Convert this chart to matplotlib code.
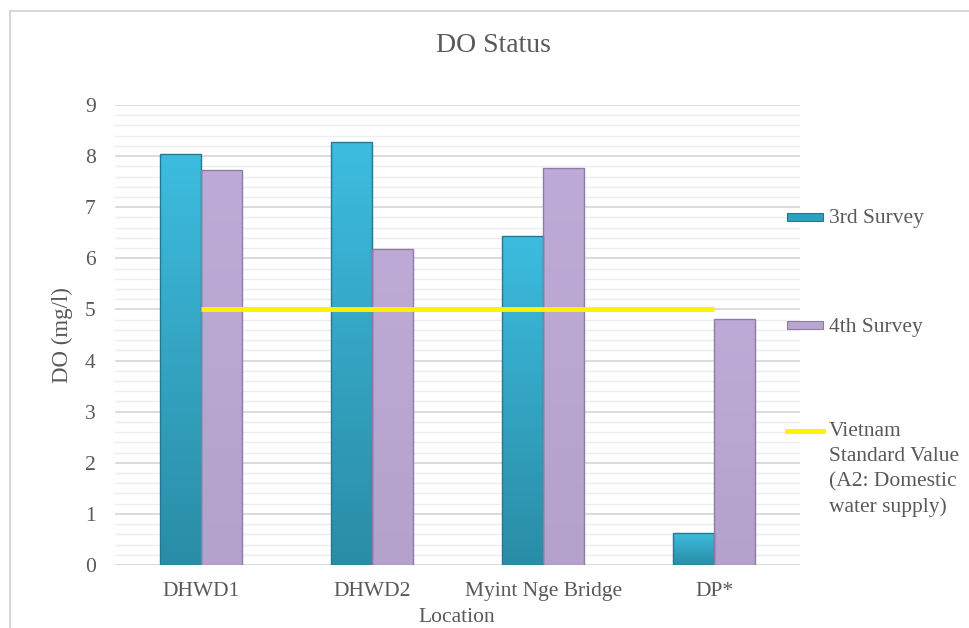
import numpy as np
import matplotlib
matplotlib.use("Agg")
import matplotlib.pyplot as plt
from matplotlib.patches import Rectangle
from matplotlib.lines import Line2D

# data
locations = ["DHWD1", "DHWD2", "Myint Nge Bridge", "DP*"]
survey3 = [8.05, 8.28, 6.43, 0.62]
survey4 = [7.72, 6.18, 7.76, 4.81]
standard = [5, 5, 5, 5]
series_names = ["3rd Survey", "4th Survey",
                "Vietnam\nStandard Value\n(A2: Domestic\nwater supply)"]

plt.rcParams['font.family'] = ['Liberation Serif', 'DejaVu Serif']
txt = "#595959"
fs = 15.5

fig = plt.figure(figsize=(9.69, 6.28), dpi=100)
ax = fig.add_axes([0.1187, 0.1003, 0.7069, 0.7325])

# chart border
fig.patches.append(Rectangle((10 / 969, -0.1), 1.2, 1 - 11 / 628 + 0.1,
                             transform=fig.transFigure, fill=False,
                             edgecolor="#D0D0D0", lw=1.2))

x = np.arange(len(locations))
w = 0.24


def grad_bar(ax, x0, h, top, bottom, edge):
    # vertical gradient bar
    grad = np.linspace(0, 1, 100).reshape(-1, 1)
    c1 = np.array(matplotlib.colors.to_rgb(bottom))
    c2 = np.array(matplotlib.colors.to_rgb(top))
    img = c1 + (c2 - c1) * grad[..., None]
    img = np.repeat(img, 2, axis=1)
    im = ax.imshow(img, extent=[x0, x0 + w, 0, h], origin="lower",
                   aspect="auto", zorder=3)
    r = Rectangle((x0, 0), w, h, facecolor="none", edgecolor=edge,
                  lw=1.0, zorder=4)
    ax.add_patch(r)
    im.set_clip_path(r)


for i in range(len(locations)):
    grad_bar(ax, x[i] - w, survey3[i], "#3DBCDF", "#2A8DA6", "#237A90")
    grad_bar(ax, x[i], survey4[i], "#BDAAD6", "#B5A2CC", "#8E7BA6")

ax.plot(x, standard, color="#FFF200", lw=3.5, zorder=5, solid_capstyle="butt")

ax.set_xlim(-0.5, len(locations) - 0.5)
ax.set_ylim(0, 9)
ax.set_yticks(range(0, 10))
ax.set_yticks(np.arange(0, 9.01, 0.2), minor=True)
ax.grid(True, which="major", axis="y", color="#D9D9D9", lw=1.3, zorder=0)
ax.grid(True, which="minor", axis="y", color="#EDEDED", lw=1.0, zorder=0)
ax.set_xticks(x)
ax.set_xticklabels(locations)
ax.tick_params(axis="both", which="both", length=0, labelsize=fs, colors=txt)
ax.tick_params(axis="y", pad=14)
ax.tick_params(axis="x", pad=12)
for s in ax.spines.values():
    s.set_visible(False)

fig.text(493 / 969, 1 - 45 / 628, "DO Status", fontsize=20, color=txt,
         ha="center", va="center")
fig.text(62 / 969, 1 - 335 / 628, "DO (mg/l)", fontsize=16.5, color=txt,
         ha="center", va="center", rotation=90)
fig.text(457 / 969, 1 - 617 / 628, "Location", fontsize=fs, color=txt,
         ha="center", va="center")

# legend drawn by hand to match the spread-out layout
leg_x0, leg_x1, tx = 787 / 969, 823 / 969, 829 / 969
for ypix, col, edge in [(217, "#2FA0BE", "#237A90"), (325, "#B8A5D0", "#8E7BA6")]:
    fig.patches.append(Rectangle((leg_x0, 1 - (ypix + 4) / 628), leg_x1 - leg_x0,
                                 8 / 628, transform=fig.transFigure,
                                 facecolor=col, edgecolor=edge, lw=0.8))
fig.lines.append(Line2D([leg_x0, leg_x1], [1 - 431 / 628] * 2,
                        transform=fig.transFigure, color="#FFF200", lw=3.5))
fig.text(tx, 1 - 219 / 628, series_names[0], fontsize=fs, color=txt, va="center")
fig.text(tx, 1 - 327 / 628, series_names[1], fontsize=fs, color=txt, va="center")
fig.text(tx, 1 - 422 / 628, series_names[2], fontsize=fs, color=txt, va="top",
         linespacing=1.42)

fig.savefig("out.png", dpi=100, facecolor="white")
